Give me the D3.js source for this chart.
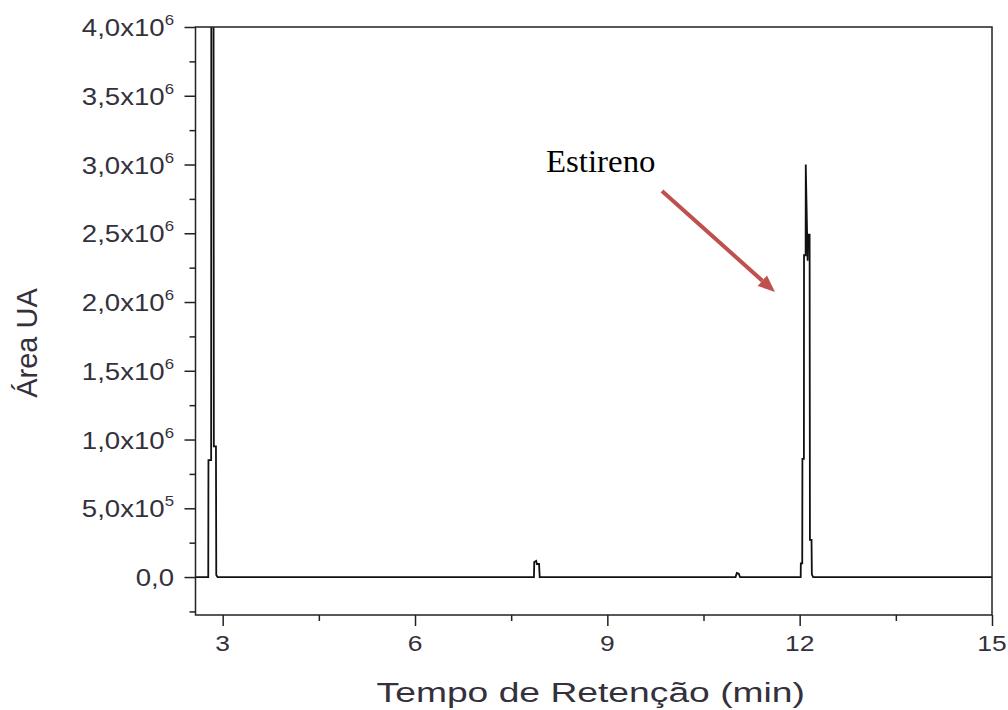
<!DOCTYPE html>
<html><head><meta charset="utf-8">
<script src="https://cdn.jsdelivr.net/npm/d3@7"></script>
<style>body{margin:0;background:#fff}</style>
</head><body><svg id="c" width="1008" height="710"></svg>
<script>
// retention time (min)
const times = [2.5, 2.775, 2.778, 2.82, 2.824, 2.855, 2.862, 2.895, 2.9, 2.92,
  7.855, 7.86, 7.89, 7.9, 7.935, 7.945,
  11.0, 11.02, 11.05, 11.07,
  12.016, 12.018, 12.04, 12.043, 12.066, 12.068, 12.093, 12.095, 12.124, 12.13, 12.155, 12.16, 12.185, 12.19, 12.21,
  15.2];
// area (UA)
const areas = [0, 0, 850000, 850000, 6000000, 6000000, 950000, 950000, 15000, 0,
  0, 110000, 118000, 95000, 95000, 0,
  0, 30000, 25000, 0,
  0, 100000, 100000, 860000, 860000, 2340000, 2340000, 3000000, 2300000, 2490000, 2490000, 270000, 270000, 20000, 0,
  0];
const xTicks = [3, 6, 9, 12, 15];
const xMinorTicks = [4.5, 7.5, 10.5, 13.5];
const yTicks = [0, 5e5, 1e6, 1.5e6, 2e6, 2.5e6, 3e6, 3.5e6, 4e6];
const yMinorTicks = [-2.5e5, 2.5e5, 7.5e5, 1.25e6, 1.75e6, 2.25e6, 2.75e6, 3.25e6, 3.75e6];
const yTickMantissa = ["0,0", "5,0x10", "1,0x10", "1,5x10", "2,0x10", "2,5x10", "3,0x10", "3,5x10", "4,0x10"];
const yTickExponent = ["", "5", "6", "6", "6", "6", "6", "6", "6"];
const xTitle = "Tempo de Retenção (min)";
const yTitle = "Área UA";
const annotation = "Estireno";

const L = 195.5, T = 27, R = 992, B = 615;
const svg = d3.select("#c");
const x = d3.scaleLinear().domain([2.576, 15]).range([L, R]);
const y = d3.scaleLinear().domain([-2.76e5, 4.0e6]).range([B, T]);

svg.append("defs").append("clipPath").attr("id", "clip")
  .append("rect").attr("x", L).attr("y", T).attr("width", R - L).attr("height", B - T);

const data = times.map((t, i) => [t, areas[i]]);
svg.append("path").datum(data)
  .attr("clip-path", "url(#clip)")
  .attr("fill", "none").attr("stroke", "#111").attr("stroke-width", 1.8)
  .attr("d", d3.line().x(d => x(d[0])).y(d => y(d[1])));

// frame
svg.append("rect").attr("x", L).attr("y", T).attr("width", R - L).attr("height", B - T)
  .attr("fill", "none").attr("stroke", "#222").attr("stroke-width", 1.5);

const tickColor = "#222";
const gy = svg.append("g").attr("transform", `translate(${L},0)`)
  .call(d3.axisLeft(y).tickValues(yTicks).tickSize(11).tickFormat(""));
const gym = svg.append("g").attr("transform", `translate(${L},0)`)
  .call(d3.axisLeft(y).tickValues(yMinorTicks).tickSize(6).tickFormat(""));
const gx = svg.append("g").attr("transform", `translate(0,${B})`)
  .call(d3.axisBottom(x).tickValues(xTicks).tickSize(11).tickFormat(""));
const gxm = svg.append("g").attr("transform", `translate(0,${B})`)
  .call(d3.axisBottom(x).tickValues(xMinorTicks).tickSize(6).tickFormat(""));
[gy, gym, gx, gxm].forEach(g => {
  g.select(".domain").remove();
  g.selectAll(".tick line").attr("stroke", tickColor).attr("stroke-width", 1.5);
});

const font = "'Liberation Sans', Arial, sans-serif";
const txtColor = "#35313c";
const sx = 1.2;
// y tick labels
yTicks.forEach((v, i) => {
  const t = svg.append("text")
    .attr("transform", `translate(174,${y(v) + 9}) scale(${sx},1)`)
    .attr("text-anchor", "end")
    .attr("font-family", font).attr("font-size", 23).attr("fill", txtColor);
  t.append("tspan").text(yTickMantissa[i]);
  if (yTickExponent[i]) {
    t.append("tspan").attr("font-size", 14).attr("dy", -11).text(yTickExponent[i]);
  }
});
// x tick labels
xTicks.forEach(v => {
  svg.append("text").attr("transform", `translate(${x(v)},651) scale(${sx},1)`)
    .attr("text-anchor", "middle")
    .attr("font-family", font).attr("font-size", 22).attr("fill", txtColor)
    .text(d3.format("d")(v));
});
// titles
svg.append("text").attr("transform", `translate(${(L + R) / 2 - 3},702) scale(1.33,1)`)
  .attr("text-anchor", "middle").attr("font-family", font).attr("font-size", 28)
  .attr("fill", txtColor).text(xTitle);
svg.append("text").attr("transform", `translate(37,343) rotate(-90)`)
  .attr("text-anchor", "middle").attr("font-family", font).attr("font-size", 29)
  .attr("fill", txtColor).text(yTitle);

// annotation
svg.append("text").attr("transform", "translate(546,172) scale(1.06,1)")
  .attr("font-family", "'Liberation Serif', 'Times New Roman', serif").attr("font-size", 31)
  .attr("fill", "#000").text(annotation);
const ax0 = 662, ay0 = 191, ax1 = 775, ay1 = 292;
const ang = Math.atan2(ay1 - ay0, ax1 - ax0);
const hl = 17, hw = 7;
const bx = ax1 - hl * Math.cos(ang), by = ay1 - hl * Math.sin(ang);
svg.append("line").attr("x1", ax0).attr("y1", ay0).attr("x2", bx).attr("y2", by)
  .attr("stroke", "#c0504d").attr("stroke-width", 4);
svg.append("path")
  .attr("d", `M${ax1},${ay1}L${bx + hw * Math.sin(ang)},${by - hw * Math.cos(ang)}L${bx - hw * Math.sin(ang)},${by + hw * Math.cos(ang)}Z`)
  .attr("fill", "#c0504d");
</script></body></html>
